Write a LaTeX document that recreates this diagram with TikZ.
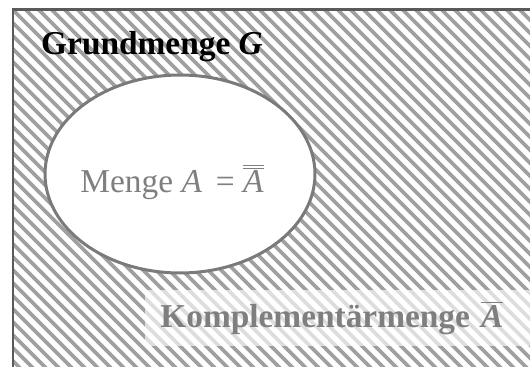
\documentclass[tikz,border=0pt]{standalone}
\usepackage{fontspec}
\setmainfont{Liberation Serif}
\usetikzlibrary{shapes.geometric}
\definecolor{HatchGray}{HTML}{A0A0A0}
\definecolor{FrameGray}{HTML}{5A5A5A}
\definecolor{RingGray}{HTML}{7A7A7A}
\definecolor{TextGray}{HTML}{7F7F7F}
\tikzset{
  setfont/.style={font=\fontsize{19}{22}\selectfont},
  hatchline/.style={HatchGray, line width=0.075cm},
  setring/.style={ellipse, draw=RingGray, line width=0.06cm, fill=white},
}

\begin{document}
\begin{tikzpicture}[x=0.02cm,y=-0.02cm]
  \useasboundingbox (0,0) rectangle (530,367);
  % ground set G, hatched
  \begin{scope}
    \clip (13,10) rectangle (545,380);
    \foreach \c in {-400,-387,...,560}
      \draw[hatchline] (\c,0) -- ++(400,400);
  \end{scope}
  \draw[FrameGray, line width=0.06cm] (13,10) rectangle (545,380);
  \node[setfont, font=\fontsize{19}{22}\selectfont\bfseries, anchor=base west] (grund)
    at (35,55) {Grundmenge \textit{G}};
  % set A
  \node[setring, minimum width=5.4cm, minimum height=3.96cm] (menge) at (180,174) {};
  \node[setfont, text=TextGray, anchor=base] (mengetext) at (172,193)
    {Menge \textit{A}\, = $\overline{\overline{\textit{A}}}$};
  % complement
  \node[setfont, font=\fontsize{19}{22}\selectfont\bfseries, text=TextGray,
    fill=white, fill opacity=0.65, text opacity=1, anchor=west,
    minimum height=1.12cm, text width=7.5cm, align=left, inner xsep=0.3cm]
    (kompl) at (145,318) {Komplementärmenge $\overline{\textit{A}}$};
\end{tikzpicture}
\end{document}
